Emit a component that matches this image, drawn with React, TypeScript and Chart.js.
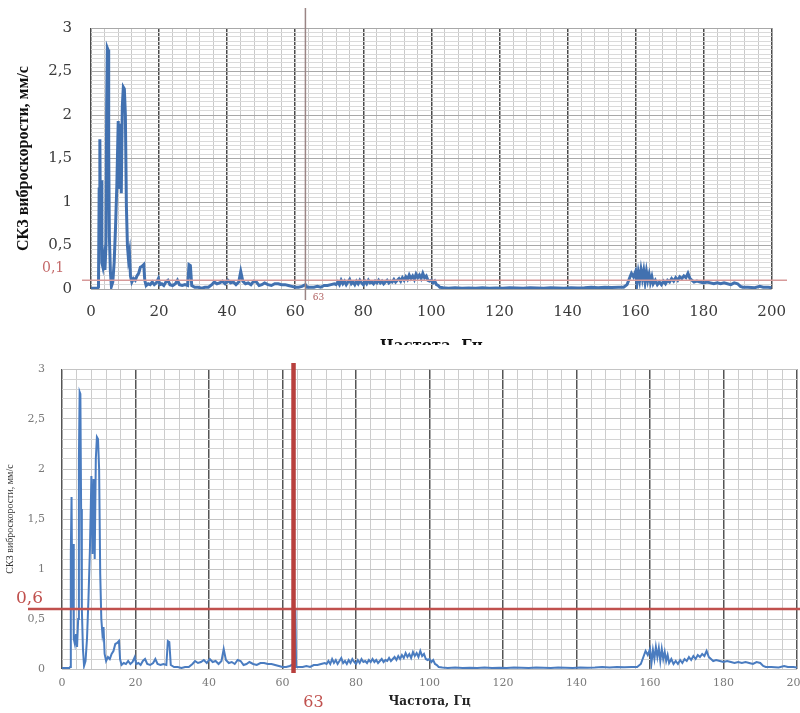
import { useEffect, useRef } from 'react';
import { Chart, registerables } from 'chart.js';

Chart.register(...registerables);

// ---------- data ----------
const freqHz = [
  0, 1, 2, 2.2, 2.4, 2.6, 2.8, 3.0, 3.2, 3.5, 3.8, 4.1, 4.4, 4.6, 4.8, 5.0, 5.2, 5.4, 5.7, 6.0,
  6.4, 6.8, 7.2, 7.6, 8.0, 8.3, 8.6, 8.9, 9.2, 9.5, 9.8, 10.1, 10.4, 10.7, 11.0, 11.3, 11.6, 12.0, 12.5, 13.0,
  13.5, 14.0, 14.5, 15.0, 15.5, 15.8, 16.2, 16.8, 17.4, 18.0, 18.6, 19.2, 19.8, 20.2, 20.8, 21.4, 22.0, 22.6, 23.2, 24.0,
  24.8, 25.4, 26.0, 26.8, 27.6, 28.4, 28.8, 29.2, 29.6, 30.5, 31.5, 32.5, 33.5, 34.5, 35.5, 36.2, 37.0, 37.8, 38.6, 39.4,
  40.2, 41.0, 41.8, 42.6, 43.4, 44.0, 44.6, 45.4, 46.2, 47.0, 47.8, 48.6, 49.4, 50.2, 51.0, 52.0, 53.0, 54.0, 55.0, 56.0,
  57.0, 58.0, 59.0, 60.0, 61.0, 62.0, 63.0, 63.5, 64.5, 65.5, 66.5, 67.5, 68.5, 69.5, 70.5, 71.5, 72.0, 72.5, 73.0, 73.5,
  74.0, 74.5, 75.0, 75.5, 76.0, 76.5, 77.0, 77.5, 78.0, 78.5, 79.0, 79.5, 80.0, 80.5, 81.0, 81.5, 82.0, 82.5, 83.0, 83.5,
  84.0, 84.5, 85.0, 85.5, 86.0, 86.5, 87.0, 87.5, 88.0, 88.5, 89.0, 89.5, 90.0, 90.5, 91.0, 91.5, 92.0, 92.5, 93.0, 93.5,
  94.0, 94.5, 95.0, 95.5, 96.0, 96.5, 97.0, 97.5, 98.0, 98.5, 99.0, 99.5, 100.0, 100.5, 101.0, 101.5, 102.0, 102.5, 103.5, 105,
  107, 109, 111, 113, 115, 117, 119, 121, 123, 125, 127, 129, 131, 133, 135, 137, 139, 141, 143, 145,
  147, 149, 151, 153, 155, 156.5, 157.5, 158.2, 158.8, 159.4, 160, 160.4, 160.8, 161.2, 161.6, 162, 162.4, 162.8, 163.2, 163.6,
  164, 164.4, 164.8, 165.2, 165.8, 166.4, 167, 167.6, 168.2, 168.8, 169.4, 170, 170.6, 171.2, 171.8, 172.4, 173, 173.6, 174.2, 174.8,
  175.4, 176, 176.6, 177.2, 178, 179, 180, 181, 182, 183, 184, 185, 186, 187, 188, 189, 190, 190.8, 191.5, 193,
  195, 196.5, 197.5, 199, 200,
];

const vibVelocity = [
  0.01, 0.01, 0.01, 0.02, 1.15, 1.72, 0.6, 1.25, 0.3, 0.25, 0.35, 0.22, 0.5, 2.1, 2.77, 2.75, 1.6, 0.6, 0.2, 0.03,
  0.08, 0.3, 0.7, 1.2, 1.93, 1.15, 1.9, 1.1, 2.1, 2.32, 2.3, 2.0, 0.95, 0.5, 0.35, 0.42, 0.15, 0.08, 0.12, 0.1,
  0.15, 0.18, 0.25, 0.26, 0.28, 0.1, 0.04, 0.06, 0.05, 0.08, 0.05, 0.07, 0.12, 0.05, 0.06, 0.04, 0.08, 0.1, 0.05, 0.04,
  0.06, 0.1, 0.05, 0.04, 0.05, 0.04, 0.28, 0.27, 0.04, 0.02, 0.02, 0.01, 0.02, 0.02, 0.05, 0.08, 0.06, 0.07, 0.09, 0.06,
  0.1, 0.07, 0.08, 0.05, 0.08, 0.2, 0.09, 0.06, 0.07, 0.05, 0.09, 0.08, 0.04, 0.05, 0.07, 0.05, 0.04, 0.06, 0.06, 0.05,
  0.05, 0.04, 0.03, 0.02, 0.02, 0.03, 0.05, 0.02, 0.02, 0.02, 0.03, 0.02, 0.04, 0.04, 0.05, 0.06, 0.05, 0.08, 0.05, 0.1,
  0.06, 0.09, 0.05, 0.08, 0.11, 0.06, 0.08, 0.05, 0.09, 0.06, 0.1, 0.07, 0.05, 0.09, 0.06, 0.1, 0.07, 0.08, 0.06, 0.09,
  0.07, 0.1, 0.07, 0.09, 0.06, 0.08, 0.1, 0.07, 0.09, 0.08, 0.11, 0.08, 0.1, 0.12, 0.09, 0.13, 0.1, 0.14, 0.11, 0.16,
  0.12, 0.15, 0.11, 0.17, 0.13, 0.16, 0.12, 0.18, 0.13, 0.15, 0.1, 0.09, 0.1, 0.07, 0.09, 0.05, 0.04, 0.02, 0.015, 0.01,
  0.015, 0.01, 0.012, 0.01, 0.015, 0.01, 0.012, 0.01, 0.015, 0.012, 0.01, 0.015, 0.012, 0.01, 0.015, 0.012, 0.01, 0.015, 0.012, 0.015,
  0.02, 0.015, 0.02, 0.018, 0.02, 0.02, 0.05, 0.12, 0.18, 0.14, 0.2, 0.06, 0.19, 0.1, 0.22, 0.12, 0.21, 0.08, 0.2, 0.1,
  0.17, 0.08, 0.14, 0.06, 0.1, 0.05, 0.08, 0.05, 0.09, 0.06, 0.1, 0.08, 0.12, 0.09, 0.13, 0.1, 0.14, 0.12, 0.15, 0.13,
  0.18, 0.12, 0.1, 0.08, 0.09, 0.08, 0.07, 0.08, 0.07, 0.06, 0.07, 0.06, 0.07, 0.06, 0.05, 0.07, 0.06, 0.03, 0.02, 0.02,
  0.015, 0.03, 0.02, 0.02, 0.015,
];

// extra spike visible only on the lower chart at 63 Hz
const spikeHz = [62.9, 63.1, 63.5, 63.7];
const spikeVelocity = [0.03, 0.6, 0.6, 0.03];

const xTitle = 'Частота, Гц';
const yTitle = 'СКЗ виброскорости, мм/с';
const markFreq = 63;
const markFreqLabel = '63';
const topLimit = 0.1;
const topLimitLabel = '0,1';
const bottomLimit = 0.6;
const bottomLimitLabel = '0,6';

// ---------- helpers ----------
const fmtX = (v: number) =>
  Math.abs(v / 20 - Math.round(v / 20)) < 1e-6 ? String(Math.round(v)) : '';
const fmtY = (v: number) => {
  const r = Math.round(v * 100) / 100;
  return Math.abs(r * 2 - Math.round(r * 2)) < 1e-6 ? String(r).replace('.', ',') : '';
};
const isMajorX = (v: number) => Math.abs(v / 20 - Math.round(v / 20)) < 1e-6;
const isMajorY = (v: number) => Math.abs(v * 2 - Math.round(v * 2)) < 1e-6;

type RefCfg = {
  hColor: string; hWidth: number; hFrom: number; hTo: number;
  vColor: string; vWidth: number; vTop: number; vBottom: number;
  hLabelFont: string; hLabelColor: string; hLabelX: number; hLabelDy: number;
  vLabelFont: string; vLabelColor: string; vLabelDx: number; vLabelY: number;
  hValue: number; hLabel: string;
};

function makeRefPlugin(c: RefCfg) {
  return {
    id: 'refMarks',
    afterDraw(chart: any) {
      const ctx = chart.ctx;
      const xs = chart.scales.x;
      const ys = chart.scales.y;
      const yh = ys.getPixelForValue(c.hValue);
      const xv = xs.getPixelForValue(markFreq);
      ctx.save();
      ctx.strokeStyle = c.hColor;
      ctx.lineWidth = c.hWidth;
      ctx.beginPath();
      ctx.moveTo(c.hFrom, yh);
      ctx.lineTo(c.hTo, yh);
      ctx.stroke();
      ctx.strokeStyle = c.vColor;
      ctx.lineWidth = c.vWidth;
      ctx.beginPath();
      ctx.moveTo(xv, c.vTop);
      ctx.lineTo(xv, c.vBottom);
      ctx.stroke();
      ctx.fillStyle = c.hLabelColor;
      ctx.font = c.hLabelFont;
      ctx.textAlign = 'left';
      ctx.textBaseline = 'middle';
      ctx.fillText(c.hLabel, c.hLabelX, yh + c.hLabelDy);
      ctx.fillStyle = c.vLabelColor;
      ctx.font = c.vLabelFont;
      ctx.textAlign = 'center';
      ctx.fillText(markFreqLabel, xv + c.vLabelDx, c.vLabelY);
      ctx.restore();
    },
  };
}

const mainPoints = freqHz.map((f, i) => ({ x: f, y: vibVelocity[i] }));
const spikePoints = spikeHz.map((f, i) => ({ x: f, y: spikeVelocity[i] }));

function topConfig(): any {
  return {
    type: 'line',
    data: {
      datasets: [
        { data: mainPoints, borderColor: '#4271b0', borderWidth: 3, pointRadius: 0, tension: 0, fill: false },
      ],
    },
    options: {
      animation: false,
      responsive: false,
      devicePixelRatio: 1,
      layout: { padding: { top: 19, right: 28, left: 0, bottom: 0 } },
      plugins: { legend: { display: false }, tooltip: { enabled: false } },
      scales: {
        x: {
          type: 'linear', min: 0, max: 200,
          afterFit: (s: any) => { s.height = 71; },
          ticks: {
            stepSize: 4, autoSkip: false, maxRotation: 0, padding: 14, color: '#3a3a3a',
            font: { family: 'DejaVu Serif', size: 15 }, callback: fmtX,
          },
          grid: {
            drawTicks: false,
            color: (ctx: any) => (ctx.tick && isMajorX(ctx.tick.value) ? '#4a4a4a' : '#c9c9c9'),
            lineWidth: (ctx: any) => (ctx.tick && isMajorX(ctx.tick.value) ? 1.5 : 1),
          },
          border: { display: false },
          title: {
            display: true, text: xTitle, color: '#111',
            font: { family: 'DejaVu Serif', size: 15, weight: 'bold' },
            padding: { top: 0, bottom: 5 },
          },
        },
        y: {
          min: 0, max: 3,
          afterFit: (s: any) => { s.width = 91; },
          ticks: {
            stepSize: 0.05, autoSkip: false, padding: 19, color: '#3a3a3a',
            font: { family: 'DejaVu Serif', size: 15 }, callback: fmtY,
          },
          grid: {
            drawTicks: false,
            color: (ctx: any) => (ctx.tick && isMajorY(ctx.tick.value) ? '#a8a8a8' : '#dadada'),
            lineWidth: 1,
          },
          border: { display: false },
          title: {
            display: true, text: yTitle, color: '#111',
            font: { family: 'Liberation Serif', size: 16, weight: 'bold' },
            padding: { top: 14, bottom: 0 },
          },
        },
      },
    },
    plugins: [
      makeRefPlugin({
        hValue: topLimit, hLabel: topLimitLabel,
        hColor: '#d79a9a', hWidth: 1.5, hFrom: 82, hTo: 787,
        vColor: '#9a8585', vWidth: 1.5, vTop: 8, vBottom: 300,
        hLabelFont: '14px "DejaVu Serif"', hLabelColor: '#c46a6a', hLabelX: 42, hLabelDy: -12,
        vLabelFont: '9px "DejaVu Serif"', vLabelColor: '#b06060', vLabelDx: 13, vLabelY: 298,
      }),
    ],
  };
}

function bottomConfig(): any {
  return {
    type: 'line',
    data: {
      datasets: [
        { data: mainPoints, borderColor: '#4a7cc0', borderWidth: 2, pointRadius: 0, tension: 0, fill: false },
        { data: spikePoints, borderColor: '#4a7cc0', borderWidth: 2, pointRadius: 0, tension: 0, fill: false },
      ],
    },
    options: {
      animation: false,
      responsive: false,
      devicePixelRatio: 1,
      layout: { padding: { top: 24, right: 33, left: 0, bottom: 0 } },
      plugins: { legend: { display: false }, tooltip: { enabled: false } },
      scales: {
        x: {
          type: 'linear', min: 0, max: 200,
          afterFit: (s: any) => { s.height = 44; },
          ticks: {
            stepSize: 4, autoSkip: false, maxRotation: 0, padding: 8, color: '#7a7a7a',
            font: { family: 'DejaVu Serif', size: 11 }, callback: fmtX,
          },
          grid: {
            drawTicks: false,
            color: (ctx: any) => (ctx.tick && isMajorX(ctx.tick.value) ? '#555555' : '#cccccc'),
            lineWidth: (ctx: any) => (ctx.tick && isMajorX(ctx.tick.value) ? 1.5 : 1),
          },
          border: { display: false },
          title: {
            display: true, text: xTitle, color: '#222',
            font: { family: 'DejaVu Serif', size: 12, weight: 'bold' },
            padding: { top: 0, bottom: 4 },
          },
        },
        y: {
          min: 0, max: 3,
          afterFit: (s: any) => { s.width = 62; },
          ticks: {
            stepSize: 0.1, autoSkip: false, padding: 17, color: '#7a7a7a',
            font: { family: 'DejaVu Serif', size: 11 }, callback: fmtY,
          },
          grid: {
            drawTicks: false,
            color: (ctx: any) => (ctx.tick && isMajorY(ctx.tick.value) ? '#c4c4c4' : '#d4d4d4'),
            lineWidth: 1,
          },
          border: { display: false },
          title: {
            display: true, text: yTitle, color: '#333',
            font: { family: 'Liberation Serif', size: 10 },
            padding: { top: 4, bottom: 0 },
          },
        },
      },
    },
    plugins: [
      makeRefPlugin({
        hValue: bottomLimit, hLabel: bottomLimitLabel,
        hColor: '#c0504d', hWidth: 2.5, hFrom: 28, hTo: 830,
        vColor: '#b8403d', vWidth: 4.5, vTop: 18, vBottom: 328,
        hLabelFont: '17px "DejaVu Serif"', hLabelColor: '#c0504d', hLabelX: 16, hLabelDy: -10,
        vLabelFont: '16px "DejaVu Serif"', vLabelColor: '#c0504d', vLabelDx: 20, vLabelY: 358,
      }),
    ],
  };
}

export default function App() {
  const topRef = useRef<HTMLCanvasElement | null>(null);
  const botRef = useRef<HTMLCanvasElement | null>(null);

  useEffect(() => {
    const c1 = new Chart(topRef.current as HTMLCanvasElement, topConfig());
    const c2 = new Chart(botRef.current as HTMLCanvasElement, bottomConfig());
    return () => {
      c1.destroy();
      c2.destroy();
    };
  }, []);

  return (
    <div style={{ position: 'absolute', left: 0, top: 0, width: 800, height: 713, overflow: 'hidden', background: '#fff' }}>
      <div style={{ position: 'absolute', left: 0, top: 0, width: 800, height: 345, overflow: 'hidden' }}>
        <canvas ref={topRef} width={800} height={360} style={{ width: 800, height: 360, display: 'block' }} />
      </div>
      <div style={{ position: 'absolute', left: 0, top: 345, width: 800, height: 368, overflow: 'hidden' }}>
        <canvas ref={botRef} width={830} height={368} style={{ width: 830, height: 368, display: 'block' }} />
      </div>
    </div>
  );
}
